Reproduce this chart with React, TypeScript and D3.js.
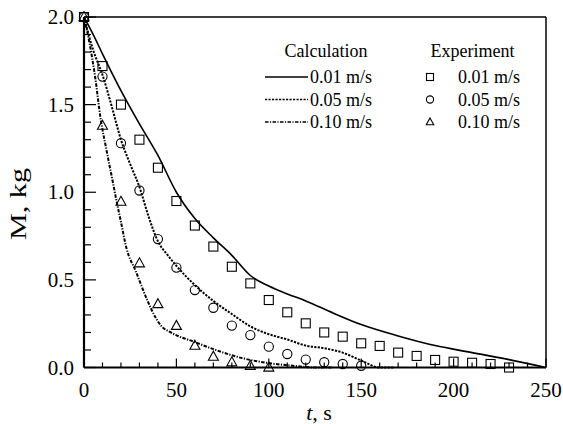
import React from "react";
import * as d3 from "d3";

const W = 563;
const H = 424;

// Calculation curves (t in s, M in kg)
const calc001T = [0, 5, 10, 20, 30, 40, 50, 60, 70, 80, 90, 100, 110, 120, 135, 150, 170, 190, 210, 230, 250];
const calc001M = [2.0, 1.9, 1.79, 1.58, 1.39, 1.21, 1.0, 0.85, 0.74, 0.64, 0.525, 0.465, 0.42, 0.38, 0.31, 0.245, 0.18, 0.125, 0.085, 0.045, 0.0];

const calc005T = [0, 5, 10, 15, 20, 25, 30, 35, 40, 45, 50, 60, 70, 80, 90, 100, 110, 120, 130, 140, 150, 160, 168];
const calc005M = [2.0, 1.81, 1.67, 1.49, 1.3, 1.16, 1.03, 0.86, 0.72, 0.645, 0.58, 0.47, 0.38, 0.305, 0.235, 0.19, 0.16, 0.125, 0.11, 0.085, 0.04, 0.0, 0.0];

const calc010T = [0, 3, 6, 9, 12, 15, 18, 20, 23, 28, 34, 39, 42, 47, 60, 70, 85, 100, 113, 125, 135];
const calc010M = [2.0, 1.85, 1.66, 1.42, 1.25, 1.09, 0.93, 0.83, 0.68, 0.55, 0.39, 0.28, 0.235, 0.2, 0.145, 0.105, 0.055, 0.025, 0.01, 0.0, 0.0];

// Experiment points
const exp001T = [0, 10, 20, 30, 40, 50, 60, 70, 80, 90, 100, 110, 120, 130, 140, 150, 160, 170, 180, 190, 200, 210, 220, 230];
const exp001M = [2.0, 1.72, 1.5, 1.3, 1.14, 0.95, 0.81, 0.69, 0.575, 0.48, 0.385, 0.315, 0.252, 0.2, 0.176, 0.138, 0.123, 0.085, 0.066, 0.043, 0.033, 0.027, 0.02, 0.0];

const exp005T = [0, 10, 20, 30, 40, 50, 60, 70, 80, 90, 100, 110, 120, 130, 140, 150];
const exp005M = [2.0, 1.66, 1.28, 1.01, 0.733, 0.57, 0.442, 0.341, 0.239, 0.185, 0.119, 0.077, 0.045, 0.03, 0.02, 0.01];

const exp010T = [0, 10, 20, 30, 40, 50, 60, 70, 80, 90, 100];
const exp010M = [2.0, 1.38, 0.946, 0.595, 0.362, 0.238, 0.125, 0.062, 0.03, 0.01, 0.0];

const xTicks = [0, 50, 100, 150, 200, 250];
const yTicks = [0, 0.5, 1.0, 1.5, 2.0];
const legendLabels = ["0.01 m/s", "0.05 m/s", "0.10 m/s"];

const TS = { fontFamily: "Liberation Serif" };

const x = d3.scaleLinear().domain([0, 250]).range([84, 546]);
const y = d3.scaleLinear().domain([0, 2]).range([367.5, 17]);

const line = d3
  .line<[number, number]>()
  .x((d) => x(d[0]))
  .y((d) => y(d[1]))
  .curve(d3.curveMonotoneX);

const zip = (a: number[], b: number[]) => a.map((v, i) => [v, b[i]] as [number, number]);

const dashes = [undefined, "2.2,1.3", "3.5,1.4,1.2,1.4"];

function Square({ cx, cy, s }: { cx: number; cy: number; s: number }) {
  return <rect x={cx - s / 2} y={cy - s / 2} width={s} height={s} fill="none" stroke="#000" strokeWidth={1.1} />;
}
function Circle({ cx, cy, r }: { cx: number; cy: number; r: number }) {
  return <circle cx={cx} cy={cy} r={r} fill="none" stroke="#000" strokeWidth={1.1} />;
}
function Tri({ cx, cy, s }: { cx: number; cy: number; s: number }) {
  const h = s * 0.9;
  const p = `${cx},${cy - h * 0.6} ${cx + s / 2},${cy + h * 0.4} ${cx - s / 2},${cy + h * 0.4}`;
  return <polygon points={p} fill="none" stroke="#000" strokeWidth={1.1} />;
}

export default function App() {
  const xMinor = d3.range(0, 251, 10);
  const yMinor = d3.range(0, 2.001, 0.1);
  const calcs = [zip(calc001T, calc001M), zip(calc005T, calc005M), zip(calc010T, calc010M)];
  return (
    <svg width={W} height={H} style={{ position: "absolute", left: 0, top: 0, background: "#fff" }}>
      <rect x={0} y={0} width={W} height={H} fill="#fff" />
      {/* frame */}
      <line x1={x(0)} x2={x(250)} y1={y(2)} y2={y(2)} stroke="#000" strokeWidth={1.5} />
      <line x1={x(250)} x2={x(250)} y1={y(2)} y2={y(0)} stroke="#000" strokeWidth={1.5} />
      {/* ticks */}
      {xMinor.map((t) => {
        const major = t % 50 === 0;
        return <line key={"xt" + t} x1={x(t)} x2={x(t)} y1={y(0)} y2={y(0) - (major ? 9 : 5)} stroke="#000" strokeWidth={1.2} />;
      })}
      {yMinor.map((v, i) => {
        const major = i % 5 === 0;
        return <line key={"yt" + i} x1={x(0)} x2={x(0) + (major ? 12 : 7)} y1={y(v)} y2={y(v)} stroke="#000" strokeWidth={1.2} />;
      })}
      {/* curves */}
      {calcs.map((c, i) => (
        <path key={"c" + i} d={line(c) || ""} fill="none" stroke="#000" strokeWidth={i === 0 ? 1.6 : 2} strokeDasharray={dashes[i]} />
      ))}
      {/* experiments */}
      {exp001T.map((t, i) => <Square key={"s" + i} cx={x(t)} cy={y(exp001M[i])} s={9} />)}
      {exp005T.map((t, i) => <Circle key={"o" + i} cx={x(t)} cy={y(exp005M[i])} r={4.6} />)}
      {exp010T.map((t, i) => <Tri key={"t" + i} cx={x(t)} cy={y(exp010M[i])} s={10} />)}
      {/* axes */}
      <line x1={x(0)} x2={x(250)} y1={y(0)} y2={y(0)} stroke="#000" strokeWidth={2.2} />
      <line x1={x(0)} x2={x(0)} y1={y(0)} y2={y(2)} stroke="#000" strokeWidth={2.2} />
      {/* tick labels */}
      {xTicks.map((t) => (
        <text key={"xl" + t} x={x(t)} y={397} fontSize={21} textAnchor="middle" style={TS}>{t}</text>
      ))}
      {yTicks.map((v) => (
        <text key={"yl" + v} x={74} y={y(v) + 7} fontSize={21} textAnchor="end" style={TS}>{v.toFixed(1)}</text>
      ))}
      {/* axis labels */}
      <text x={319} y={420} fontSize={22} textAnchor="middle" style={TS}>
        <tspan fontStyle="italic">t</tspan>, s
      </text>
      <text
        transform={`translate(25.5,${240}) rotate(-90)`}
        x={0}
        y={0}
        fontSize={22.5}
        textLength={72}
        lengthAdjust="spacingAndGlyphs"
        style={TS}
      >
        M, kg
      </text>
      {/* legend */}
      <text x={326} y={57} fontSize={18} textAnchor="middle" style={TS}>Calculation</text>
      <text x={472.5} y={57} fontSize={18} textAnchor="middle" style={TS}>Experiment</text>
      {legendLabels.map((lab, i) => {
        const by = 83 + i * 22.5;
        const cy = by - 6;
        return (
          <g key={"lg" + i}>
            <line x1={265} x2={308} y1={cy} y2={cy} stroke="#000" strokeWidth={1.6} strokeDasharray={dashes[i]} />
            <text x={310} y={by} fontSize={18} style={TS}>{lab}</text>
            {i === 0 && <Square cx={430} cy={cy} s={7} />}
            {i === 1 && <Circle cx={430} cy={cy} r={3.6} />}
            {i === 2 && <Tri cx={430} cy={cy} s={7.5} />}
            <text x={458} y={by} fontSize={18} style={TS}>{lab}</text>
          </g>
        );
      })}
    </svg>
  );
}
